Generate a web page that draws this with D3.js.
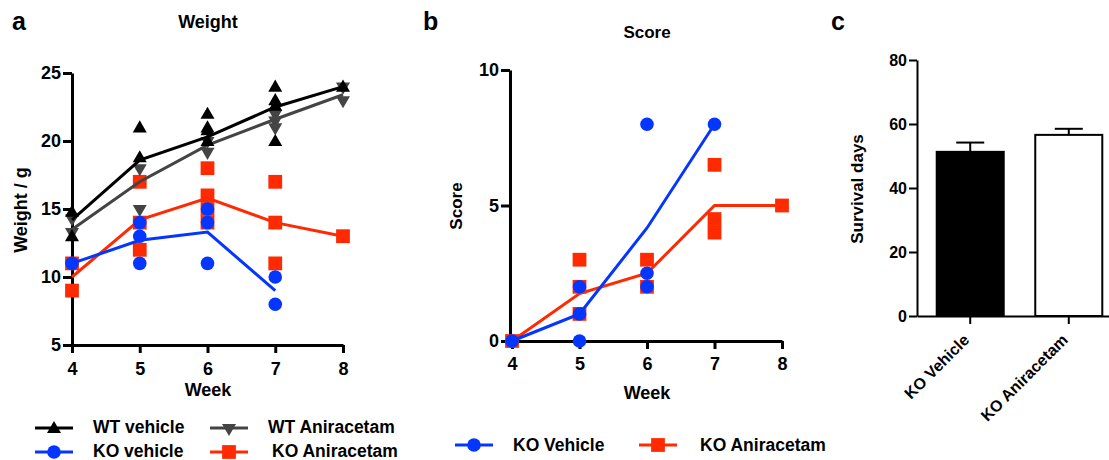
<!DOCTYPE html>
<html>
<head>
<meta charset="utf-8">
<script src="https://cdn.jsdelivr.net/npm/d3@7"></script>
<style>
  body { margin: 0; background: #fff; }
  svg { font-family: "Liberation Sans", Arial, sans-serif; font-weight: bold; }
</style>
</head>
<body>
<div id="chart"></div>
<script>
// (1) DATA
const weeks = [4, 5, 6, 7, 8];

// panel a: weight (g), individual points per week + mean line
const wtVehPts = [[14.8, 13], [21, 18.8], [22, 21, 20.8, 20], [24, 23, 22.6, 20], [24]];
const wtVehMean = [14.2, 18.6, 20.3, 22.5, 24];
const wtAniPts = [[14.3, 13.3], [18, 15], [20, 19.2], [22, 21.5, 21], [24, 23]];
const wtAniMean = [13.5, 17, 19.7, 21.6, 23.4];
const koVehPts = [[11], [14, 13, 11], [15, 14, 11], [10, 8]];
const koVehMean = [11, 12.7, 13.3, 9];
const koAniPts = [[11, 9], [17, 14, 12], [18, 16, 15, 14], [17, 14, 11], [13]];
const koAniMean = [10, 14.2, 15.8, 14, 13];
const weightTicks = [5, 10, 15, 20, 25];

// panel b: score
const scoreVehPts = [[0], [2, 1, 0], [8, 2.5, 2], [8]];
const scoreVehMean = [0, 1, 4.17, 8];
const scoreAniPts = [[0], [3, 2, 1], [3, 2], [6.5, 4.5, 4], [5]];
const scoreAniMean = [0, 1.75, 2.5, 5, 5];
const scoreTicks = [0, 5, 10];

// panel c: survival
const survCats = ["KO Vehicle", "KO Aniracetam"];
const survMean = [51.3, 56.6];
const survErr = [2.9, 1.9];
const survTicks = [0, 20, 40, 60, 80];

const BLACK = "#000", GRAY = "#444", BLUE = "#0536ff", RED = "#ff2a00";

const width = 1109, height = 460;
const svg = d3.select("#chart").append("svg")
    .attr("width", width)
    .attr("height", height)
    .attr("viewBox", [0, 0, width, height]);

// symbols
const sym = {
    up: d3.symbol().type(d3.symbolTriangle).size(85)(),
    down: d3.symbol().type(d3.symbolTriangle).size(85)(),
    circle: d3.symbol().type(d3.symbolCircle).size(145)(),
    square: d3.symbol().type(d3.symbolSquare).size(190)()
};
function marker(g, shape, color, x, y) {
    g.append("path")
        .attr("d", sym[shape])
        .attr("fill", color)
        .attr("transform", `translate(${x},${y})` + (shape === "down" ? " rotate(180)" : "") + (shape === "up" ? " translate(0,1)" : ""));
}

// draws one series: mean line + scatter points
function series(g, x, y, pts, mean, color, shape) {
    const line = d3.line().x((d, i) => x(weeks[i])).y(d => y(d));
    g.append("path")
        .attr("d", line(mean))
        .attr("fill", "none")
        .attr("stroke", color)
        .attr("stroke-width", 3);
    pts.forEach((arr, i) => arr.forEach(v => marker(g, shape, color, x(weeks[i]), y(v))));
}

function styleAxis(g, w, fs) {
    g.select(".domain").attr("stroke-width", w).attr("stroke", "#000");
    g.selectAll(".tick line").attr("stroke-width", w).attr("stroke", "#000");
    g.selectAll(".tick text").attr("font-size", fs).attr("font-weight", "bold").attr("fill", "#000")
        .attr("font-family", "Liberation Sans, Arial, sans-serif");
}

// (2) PANEL A
{
    const x = d3.scaleLinear([4, 8], [72, 343]);
    const y = d3.scaleLinear([5, 25], [345, 73]);
    const g = svg.append("g");

    g.append("g").attr("transform", `translate(0,${y(5)})`)
        .call(d3.axisBottom(x).tickValues(weeks).tickFormat(d3.format("d")).tickSize(8).tickPadding(9).tickSizeOuter(0))
        .call(a => styleAxis(a, 3, 18));
    g.append("g").attr("transform", `translate(${x(4)},0)`)
        .call(d3.axisLeft(y).tickValues(weightTicks).tickSize(9).tickPadding(2).tickSizeOuter(0))
        .call(a => styleAxis(a, 3, 18));

    series(g, x, y, koAniPts, koAniMean, RED, "square");
    series(g, x, y, koVehPts, koVehMean, BLUE, "circle");
    series(g, x, y, wtAniPts, wtAniMean, GRAY, "down");
    series(g, x, y, wtVehPts, wtVehMean, BLACK, "up");

    svg.append("text").attr("x", 12).attr("y", 30).attr("font-size", 25).text("a");
    svg.append("text").attr("x", 208).attr("y", 28).attr("text-anchor", "middle").attr("font-size", 18).text("Weight");
    svg.append("text").attr("x", 208).attr("y", 396).attr("text-anchor", "middle").attr("font-size", 18).text("Week");
    svg.append("text").attr("transform", "translate(27,210) rotate(-90)").attr("text-anchor", "middle").attr("font-size", 18).text("Weight / g");

    // legend
    const leg = [
        { label: "WT vehicle", color: BLACK, shape: "up", lx: 35, tx: 93, y: 428 },
        { label: "WT Aniracetam", color: GRAY, shape: "down", lx: 210, tx: 268, y: 428 },
        { label: "KO vehicle", color: BLUE, shape: "circle", lx: 35, tx: 93, y: 452 },
        { label: "KO Aniracetam", color: RED, shape: "square", lx: 210, tx: 272, y: 452 }
    ];
    leg.forEach(d => {
        svg.append("line").attr("x1", d.lx).attr("x2", d.lx + 38).attr("y1", d.y).attr("y2", d.y)
            .attr("stroke", d.color).attr("stroke-width", 3);
        marker(svg, d.shape, d.color, d.lx + 19, d.y);
        svg.append("text").attr("x", d.tx).attr("y", d.y + 5).attr("font-size", 17.5).text(d.label);
    });
}

// (3) PANEL B
{
    const x = d3.scaleLinear([4, 8], [512, 782]);
    const y = d3.scaleLinear([0, 10], [341, 70]);
    const g = svg.append("g");

    g.append("g").attr("transform", `translate(0,${y(0)})`)
        .call(d3.axisBottom(x).tickValues(weeks).tickFormat(d3.format("d")).tickSize(8).tickPadding(8).tickSizeOuter(0))
        .call(a => styleAxis(a, 3, 18));
    g.append("g").attr("transform", `translate(${x(4) - 2},0)`)
        .call(d3.axisLeft(y).tickValues(scoreTicks).tickSize(9).tickPadding(2).tickSizeOuter(0))
        .call(a => styleAxis(a, 3, 18));

    series(g, x, y, scoreAniPts, scoreAniMean, RED, "square");
    series(g, x, y, scoreVehPts, scoreVehMean, BLUE, "circle");

    svg.append("text").attr("x", 423).attr("y", 30).attr("font-size", 25).text("b");
    svg.append("text").attr("x", 647).attr("y", 38).attr("text-anchor", "middle").attr("font-size", 17).text("Score");
    svg.append("text").attr("x", 647).attr("y", 399).attr("text-anchor", "middle").attr("font-size", 18).text("Week");
    svg.append("text").attr("transform", "translate(462,206) rotate(-90)").attr("text-anchor", "middle").attr("font-size", 17).text("Score");

    const leg = [
        { label: "KO Vehicle", color: BLUE, shape: "circle", lx: 455, tx: 513, y: 445 },
        { label: "KO Aniracetam", color: RED, shape: "square", lx: 639, tx: 700, y: 445 }
    ];
    leg.forEach(d => {
        svg.append("line").attr("x1", d.lx).attr("x2", d.lx + 38).attr("y1", d.y).attr("y2", d.y)
            .attr("stroke", d.color).attr("stroke-width", 3);
        marker(svg, d.shape, d.color, d.lx + 19, d.y);
        svg.append("text").attr("x", d.tx).attr("y", d.y + 6).attr("font-size", 17.5).text(d.label);
    });
}

// (4) PANEL C
{
    const x = d3.scaleBand(survCats, [917, 1122]).paddingInner(0.32).paddingOuter(0.2);
    const y = d3.scaleLinear([0, 80], [316, 60]);
    const g = svg.append("g");

    g.append("g").attr("transform", `translate(0,${y(0)})`)
        .call(d3.axisBottom(x).tickSize(8).tickSizeOuter(0).tickFormat(""))
        .call(a => styleAxis(a, 2, 16));
    g.append("g").attr("transform", `translate(917,0)`)
        .call(d3.axisLeft(y).tickValues(survTicks).tickSize(8).tickPadding(2).tickSizeOuter(0))
        .call(a => styleAxis(a, 2, 16));

    survCats.forEach((c, i) => {
        const cx = x(c) + x.bandwidth() / 2;
        g.append("line").attr("x1", cx).attr("x2", cx)
            .attr("y1", y(survMean[i])).attr("y2", y(survMean[i] + survErr[i]))
            .attr("stroke", "#000").attr("stroke-width", 2);
        g.append("line").attr("x1", cx - 14).attr("x2", cx + 14)
            .attr("y1", y(survMean[i] + survErr[i])).attr("y2", y(survMean[i] + survErr[i]))
            .attr("stroke", "#000").attr("stroke-width", 2);
        g.append("rect")
            .attr("x", x(c)).attr("y", y(survMean[i]))
            .attr("width", x.bandwidth()).attr("height", y(0) - y(survMean[i]))
            .attr("fill", i === 0 ? "#000" : "#fff")
            .attr("stroke", "#000").attr("stroke-width", 2);
        svg.append("text")
            .attr("transform", `translate(${cx},${y(0) + 25}) rotate(-45)`)
            .attr("text-anchor", "end").attr("font-size", 16).text(c);
    });

    svg.append("text").attr("x", 831).attr("y", 30).attr("font-size", 25).text("c");
    svg.append("text").attr("transform", "translate(863,189) rotate(-90)").attr("text-anchor", "middle").attr("font-size", 17).text("Survival days");
}
</script>
</body>
</html>
